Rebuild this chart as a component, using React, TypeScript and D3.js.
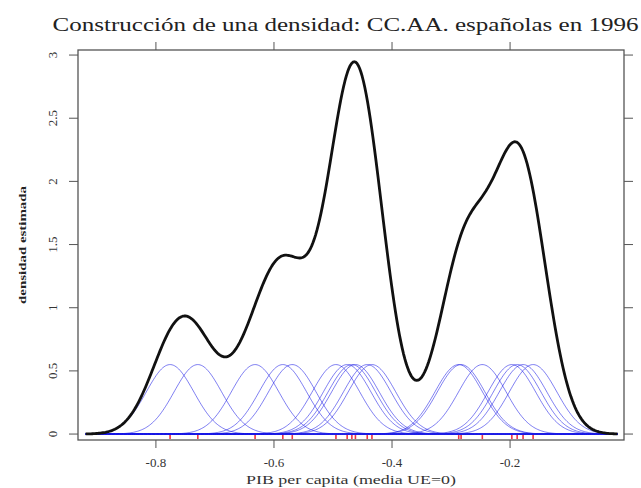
import React from 'react';
import * as d3 from 'd3';

const pibPoints = [
  -0.776, -0.729, -0.632, -0.585, -0.569,
  -0.495, -0.476, -0.468, -0.462, -0.442, -0.434,
  -0.287, -0.283, -0.247, -0.197, -0.188, -0.178, -0.161,
];
const bandwidth = 0.0403;
const xTicks = [-0.8, -0.6, -0.4, -0.2];
const yTicks = [0, 0.5, 1, 1.5, 2, 2.5, 3];
const yTickLabels = ['0', '0.5', '1', '1.5', '2', '2.5', '3'];

const font = '"Liberation Serif", "DejaVu Serif", serif';

const gauss = (u: number) => Math.exp(-0.5 * u * u) / Math.sqrt(2 * Math.PI);

export default function App() {
  const width = 641;
  const height = 488;
  const left = 78, right = 624, top = 50, bottom = 440;

  const x = d3.scaleLinear().domain([-0.932, -0.007]).range([left, right]);
  const y = d3.scaleLinear().domain([-0.047, 3.04]).range([bottom, top]);

  const n = pibPoints.length;
  const lo = d3.min(pibPoints)! - 3.55 * bandwidth;
  const hi = d3.max(pibPoints)! + 3.55 * bandwidth;
  const grid = d3.range(0, 401).map(i => lo + (hi - lo) * i / 400);

  const kernel = (xi: number, g: number) => gauss((g - xi) / bandwidth) / (n * bandwidth);
  const dens = grid.map(g => d3.sum(pibPoints, xi => kernel(xi, g)));

  const line = d3.line<[number, number]>()
    .x(d => x(d[0]))
    .y(d => y(d[1]));

  return (
    <svg width={width} height={height} style={{ position: 'absolute', left: 0, top: 0 }}>
      <rect width={width} height={height} fill="#fff" />
      <text x={345.5} y={31} textAnchor="middle" fontFamily={font} fontSize={19} fill="#222"
        textLength={586} lengthAdjust="spacingAndGlyphs">
        Construcción de una densidad: CC.AA. españolas en 1996
      </text>

      {pibPoints.map((xi, i) => (
        <path key={i}
          d={line(grid.map(g => [g, kernel(xi, g)] as [number, number])) || ''}
          fill="none" stroke="#1a1ae6" strokeOpacity={0.75} strokeWidth={0.75} />
      ))}

      <path d={line(grid.map((g, i) => [g, dens[i]] as [number, number])) || ''}
        fill="none" stroke="#111" strokeWidth={2.8} strokeLinejoin="round" />

      {pibPoints.map((xi, i) => (
        <line key={i} x1={x(xi)} x2={x(xi)} y1={y(0) + 1} y2={y(0) + 5}
          stroke="#ee3344" strokeWidth={1.6} />
      ))}

      <rect x={left} y={top} width={right - left} height={bottom - top}
        fill="none" stroke="#555" strokeWidth={1.3} />

      {xTicks.map(t => (
        <g key={t}>
          <line x1={x(t)} x2={x(t)} y1={bottom} y2={bottom + 8} stroke="#555" strokeWidth={1} />
          <line x1={x(t)} x2={x(t)} y1={top} y2={top - 8} stroke="#555" strokeWidth={1} />
          <text x={x(t)} y={467} textAnchor="middle" fontFamily={font} fontSize={13} fill="#333">
            {t.toFixed(1)}
          </text>
        </g>
      ))}

      {yTicks.map((t, i) => (
        <g key={t}>
          <line x1={left} x2={left - 9} y1={y(t)} y2={y(t)} stroke="#555" strokeWidth={1} />
          <line x1={right} x2={right + 9} y1={y(t)} y2={y(t)} stroke="#555" strokeWidth={1} />
          <text transform={`translate(${left - 26},${y(t)}) rotate(-90)`} textAnchor="middle"
            dominantBaseline="central" fontFamily={font} fontSize={13} fill="#333">
            {yTickLabels[i]}
          </text>
        </g>
      ))}

      <text x={(left + right) / 2} y={484} textAnchor="middle" fontFamily={font} fontSize={12} fill="#333"
        textLength={210} lengthAdjust="spacingAndGlyphs">
        PIB per capita (media UE=0)
      </text>
      <text transform={`translate(22,${(top + bottom) / 2}) rotate(-90)`} textAnchor="middle"
        dominantBaseline="central" fontFamily={font} fontSize={11} fontWeight="bold" fill="#222"
        textLength={118} lengthAdjust="spacingAndGlyphs">
        densidad estimada
      </text>
    </svg>
  );
}
